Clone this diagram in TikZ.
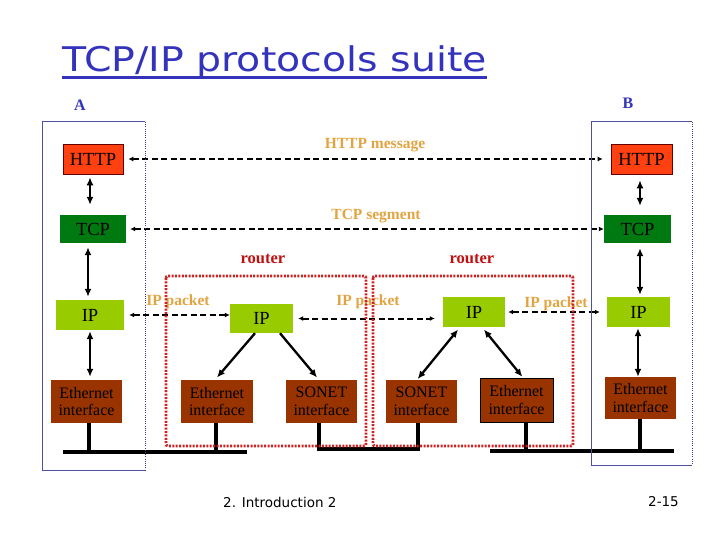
\documentclass[tikz,border=0pt]{standalone}
\usepackage{fontspec}
\setmainfont{Liberation Serif}
\newfontfamily\titlefont{DejaVu Sans}
\usetikzlibrary{arrows.meta,calc}
\definecolor{httpred}{RGB}{255,64,16}
\definecolor{tcpgreen}{RGB}{0,122,16}
\definecolor{ipgreen}{RGB}{153,204,0}
\definecolor{ethbrown}{RGB}{153,51,0}
\definecolor{gold}{RGB}{226,164,64}
\definecolor{routerred}{RGB}{192,16,16}
\definecolor{titleblue}{RGB}{51,51,187}
\definecolor{hostblue}{RGB}{80,80,160}
\definecolor{rframe}{RGB}{204,34,34}
\begin{document}
\begin{tikzpicture}[x=1pt,y=-1pt,
  lay/.style={inner sep=0pt, align=center, text=black},
  big/.style={lay, font=\fontsize{18.5}{18.5}\selectfont},
  small/.style={lay, font=\fontsize{16}{17.5}\selectfont},
  httpbox/.style={big, fill=httpred, draw=black!60!red, line width=0.6pt},
  tcpbox/.style={big, fill=tcpgreen},
  ipbox/.style={big, fill=ipgreen},
  ethbox/.style={small, fill=ethbrown},
  dbl/.style={{Latex[length=8pt,width=7pt]}-{Latex[length=8pt,width=7pt]}, line width=2.3pt},
  sgl/.style={-{Latex[length=8pt,width=7pt]}, line width=2.3pt},
  msg/.style={dash pattern=on 6pt off 3.5pt, line width=2pt, {Latex[length=5pt,width=5pt]}-{Latex[length=5pt,width=5pt]}},
  bus/.style={line width=3.6pt},
  lbl/.style={inner sep=0pt, text=gold, font=\bfseries\fontsize{15.5}{15.5}\selectfont},
  rlbl/.style={inner sep=0pt, text=routerred, font=\bfseries\fontsize{16.5}{16.5}\selectfont},
  hostlbl/.style={inner sep=0pt, text=titleblue, font=\bfseries\fontsize{16}{16}\selectfont},
  hostsolid/.style={draw=hostblue, line width=1pt},
  hostdot/.style={draw=hostblue!80!black, line width=1pt, dash pattern=on 1pt off 1.2pt},
  routerframe/.style={draw=rframe, line width=2.8pt, dash pattern=on 2pt off 1.4pt, rounded corners=2pt},
  foot/.style={inner sep=0pt, font=\titlefont\fontsize{13.5}{13.5}\selectfont}
]
\useasboundingbox (0,0) rectangle (720,540);

% title
\node[anchor=base west, inner sep=0pt, text=titleblue, font=\titlefont\fontsize{34}{34}\selectfont] (title) at (62,72) {\scalebox{1.16}[1]{TCP/IP protocols suite}};
\coordinate (ul1) at (62,78);
\coordinate (ul2) at (487,78);
\draw[titleblue, line width=3pt] (ul1) -- (ul2);

% host labels
\node[hostlbl] (labA) at (80,105) {A};
\node[hostlbl] (labB) at (628,103) {B};

% nodes, host A
\node[httpbox, minimum width=60pt, minimum height=30pt] (httpA) at (93,159) {HTTP};
\node[tcpbox, minimum width=66pt, minimum height=28pt] (tcpA) at (93,229) {TCP};
\node[ipbox, minimum width=68pt, minimum height=30pt] (ipA) at (90,315) {IP};
\node[ethbox, minimum width=71pt, minimum height=43pt] (ethA) at (86.5,401.5) {Ethernet\\interface};
% host B
\node[httpbox, minimum width=61pt, minimum height=30pt] (httpB) at (641.5,159) {HTTP};
\node[tcpbox, minimum width=67pt, minimum height=28pt] (tcpB) at (637.5,229) {TCP};
\node[ipbox, minimum width=63pt, minimum height=30pt] (ipB) at (638.5,312) {IP};
\node[ethbox, minimum width=71pt, minimum height=42pt] (ethB) at (640.5,398) {Ethernet\\interface};
% router 1
\node[ipbox, minimum width=63pt, minimum height=29pt] (ipR1) at (261.5,318.5) {IP};
\node[ethbox, minimum width=72pt, minimum height=43pt] (ethR1) at (217,401.5) {Ethernet\\interface};
\node[ethbox, minimum width=71pt, minimum height=43pt] (sonetR1) at (321.5,401.5) {SONET\\interface};
% router 2
\node[ipbox, minimum width=62pt, minimum height=30pt] (ipR2) at (474,312) {IP};
\node[ethbox, minimum width=71pt, minimum height=43pt] (sonetR2) at (421.5,401.5) {SONET\\interface};
\node[ethbox, draw=black, line width=0.8pt, minimum width=73pt, minimum height=44pt] (ethR2) at (516.5,400) {Ethernet\\interface};

% labels
\node[lbl] (lhttp) at (375,145) {HTTP message};
\node[lbl] (ltcp) at (376,216) {TCP segment};
\node[rlbl] (rt1) at (263,259) {router};
\node[rlbl] (rt2) at (472,259) {router};
\node[lbl] (lip1) at (178,302) {IP packet};
\node[lbl] (lip2) at (368,302) {IP packet};
\node[lbl] (lip3) at (556,304) {IP packet};

% peer messages
\draw[msg, shorten <=5pt, shorten >=8pt] (httpA.east) -- (httpB.west);
\draw[msg, shorten <=4pt, shorten >=0pt] (tcpA.east) -- (tcpB.west);
\draw[msg, shorten <=5pt, shorten >=0pt] (ipA.east) -- (ipA.east -| ipR1.west);
\draw[msg, shorten <=5pt, shorten >=8pt] (ipR1.east) -- (ipR1.east -| ipR2.west);
\draw[msg, shorten <=3pt, shorten >=7pt] (ipR2.east) -- (ipR2.east -| ipB.west);

% vertical stack arrows
\draw[dbl, shorten <=3pt, shorten >=10pt] ([xshift=-3pt]httpA.south) -- ([xshift=-3pt]tcpA.north);
\draw[dbl, shorten <=4pt, shorten >=3pt] ([xshift=-5pt]tcpA.south) -- ([xshift=-2pt]ipA.north);
\draw[dbl, shorten <=1pt, shorten >=3pt] (ipA.south) -- ([xshift=3.5pt]ethA.north);
\draw[dbl, shorten <=6pt, shorten >=9pt] ([xshift=-1.5pt]httpB.south) -- ([xshift=2.5pt]tcpB.north);
\draw[dbl, shorten <=5pt, shorten >=2pt] ([xshift=2.5pt]tcpB.south) -- ([xshift=1.5pt]ipB.north);
\draw[dbl, shorten <=1pt, shorten >=0pt] ([xshift=-0.5pt]ipB.south) -- ([xshift=-2.5pt]ethB.north);

% router internal arrows
\draw[sgl, shorten >=3pt] ([xshift=-6.5pt]ipR1.south) -- ([xshift=-2pt]ethR1.north);
\draw[sgl, shorten >=3pt] ([xshift=18.5pt]ipR1.south) -- ([xshift=-2.5pt]sonetR1.north);
\draw[dbl, shorten <=3pt, shorten >=1pt] ([xshift=-14pt]ipR2.south) -- ([xshift=-4.5pt]sonetR2.north);
\draw[dbl, shorten <=3pt, shorten >=1pt] ([xshift=8pt]ipR2.south) -- ([xshift=6.5pt]ethR2.north);

% links
\coordinate (jA) at (89,452);
\coordinate (jR1e) at (216,452);
\coordinate (jR1s) at (319,449);
\coordinate (jR2s) at (418,449);
\coordinate (jR2e) at (526,451);
\coordinate (jB) at (640,451);
\coordinate (busL1) at (63,452);
\coordinate (busL2) at (247,452);
\coordinate (busR1) at (490,451);
\coordinate (busR2) at (674,451);
\draw[bus] (busL1) -- (busL2);
\draw[bus] (busR1) -- (busR2);
\draw[bus] (ethA.south -| jA) -- (jA);
\draw[bus] (ethR1.south -| jR1e) -- (jR1e);
\draw[bus] (sonetR1.south -| jR1s) -- (jR1s) -- (jR2s) -- (sonetR2.south -| jR2s);
\draw[bus] (ethR2.south -| jR2e) -- (jR2e);
\draw[bus] (ethB.south -| jB) -- (jB);

% host frames
\draw[hostsolid] (145,470) -- (42,470) -- (42,122) -- (145,122);
\draw[hostdot] (145,122) -- (145,470);
\draw[hostsolid] (692,465) -- (591,465) -- (591,122) -- (692,122);
\draw[hostdot] (692,122) -- (692,465);

% router frames
\draw[routerframe] (166,276) rectangle (366,446);
\draw[routerframe] (373,276) rectangle (573,446);

% footer
\node[foot, anchor=west] (f1) at (223,502) {2. Introduction 2};
\node[foot, anchor=east] (f2) at (679,502) {2-15};
\end{tikzpicture}
\end{document}
